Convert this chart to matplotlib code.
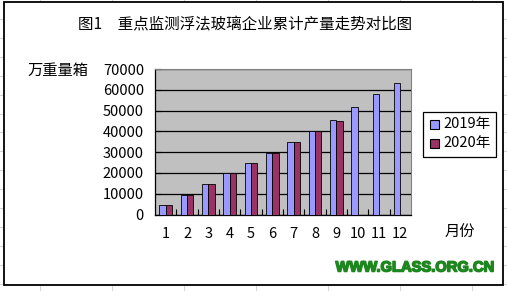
import matplotlib
matplotlib.use("Agg")
import matplotlib.pyplot as plt
from matplotlib.patches import Rectangle
from matplotlib.lines import Line2D
import matplotlib.patheffects as pe

plt.rcParams['font.family'] = ['Noto Sans CJK SC', 'DejaVu Sans']

months = [str(i) for i in range(1, 13)]
y2019 = [4800, 9500, 14500, 19800, 24600, 29800, 34800, 40300, 45400, 51700, 58000, 63300]
y2020 = [4800, 9500, 14500, 19800, 24600, 29500, 34800, 40300, 44900]
series_names = ["2019年", "2020年"]
title = "图1　重点监测浮法玻璃企业累计产量走势对比图"
ylabel = "万重量箱"
xlabel = "月份"
watermark = "WWW.GLASS.ORG.CN"

W, H = 507, 291
fig = plt.figure(figsize=(W / 100, H / 100), dpi=100)

def px(x, y):
    return (x / W, 1 - y / H)

# spreadsheet background grid
for gx in range(40, W, 72):
    fig.add_artist(Line2D([gx / W, gx / W], [0, 1], color='#D4D4D4', lw=0.8, zorder=0))
gy = 18.8
while gy < H:
    fig.add_artist(Line2D([0, 1], [1 - gy / H, 1 - gy / H], color='#D4D4D4', lw=0.8, zorder=0))
    gy += 18.95

# chart frame
x0, y0 = px(4, 284.5)
x1, y1 = px(503, 1.5)
fig.add_artist(Rectangle((x0, y0), x1 - x0, y1 - y0, transform=fig.transFigure,
                         facecolor='white', edgecolor='black', lw=1.3, zorder=1))

l, b = px(155, 214.5)
r, t = px(411, 69)
ax = fig.add_axes([l, b, r - l, t - b], zorder=2)
ax.set_facecolor('#C0C0C0')

xs = list(range(1, 13))
w = 0.3
ax.bar([x - w / 2 for x in xs], y2019, width=w, color='#9999FF', edgecolor='black', lw=0.6, zorder=3)
ax.bar([x + w / 2 for x in xs[:len(y2020)]], y2020, width=w, color='#993366', edgecolor='black', lw=0.6, zorder=3)

ax.set_xlim(0.5, 12.5)
ax.set_ylim(0, 70000)
ax.set_yticks(range(0, 70001, 10000))
ax.yaxis.grid(True, color='black', lw=0.9)
ax.set_axisbelow(True)
ax.set_xticks(xs)
ax.set_xticklabels(months)
ax.set_xticks([x + 0.5 for x in xs[:-1]], minor=True)
ax.tick_params(axis='x', which='major', length=0, pad=9, labelsize=10.5)
ax.tick_params(axis='x', which='minor', length=4, direction='in', width=0.8)
ax.tick_params(axis='y', length=4, direction='in', pad=8, labelsize=10.5, width=0.8)
for sp in ['top', 'right']:
    ax.spines[sp].set_color('#808080')
    ax.spines[sp].set_linewidth(0.8)
for sp in ['left', 'bottom']:
    ax.spines[sp].set_color('black')
    ax.spines[sp].set_linewidth(0.9)

fig.text(*px(245, 25), title, ha='center', va='center', fontsize=11.2, zorder=5)
fig.text(*px(58, 70), ylabel, ha='center', va='center', fontsize=11, zorder=5)
fig.text(*px(460, 232), xlabel, ha='center', va='center', fontsize=11, zorder=5)
fig.text(*px(415, 267.5), watermark, ha='center', va='center', fontsize=10.6,
         fontweight='bold', color='#1E861E', family='Liberation Sans', zorder=5,
         path_effects=[pe.withStroke(linewidth=1.1, foreground='#1E861E')])

# legend
lx0, ly0 = px(423, 157)
lx1, ly1 = px(496, 112)
fig.add_artist(Rectangle((lx0, ly0), lx1 - lx0, ly1 - ly0, transform=fig.transFigure,
                         facecolor='white', edgecolor='black', lw=0.9, zorder=4))
colors = ['#9999FF', '#993366']
for i, (name, c) in enumerate(zip(series_names, colors)):
    cy = 124 + i * 19.5
    sx, sy = px(430, cy + 4.5)
    fig.add_artist(Rectangle((sx, sy), 9 / W, 9 / H, transform=fig.transFigure,
                             facecolor=c, edgecolor='black', lw=0.8, zorder=5))
    fig.text(*px(443, cy), name, ha='left', va='center', fontsize=10.5, zorder=5)

fig.savefig('out.png', dpi=100)
